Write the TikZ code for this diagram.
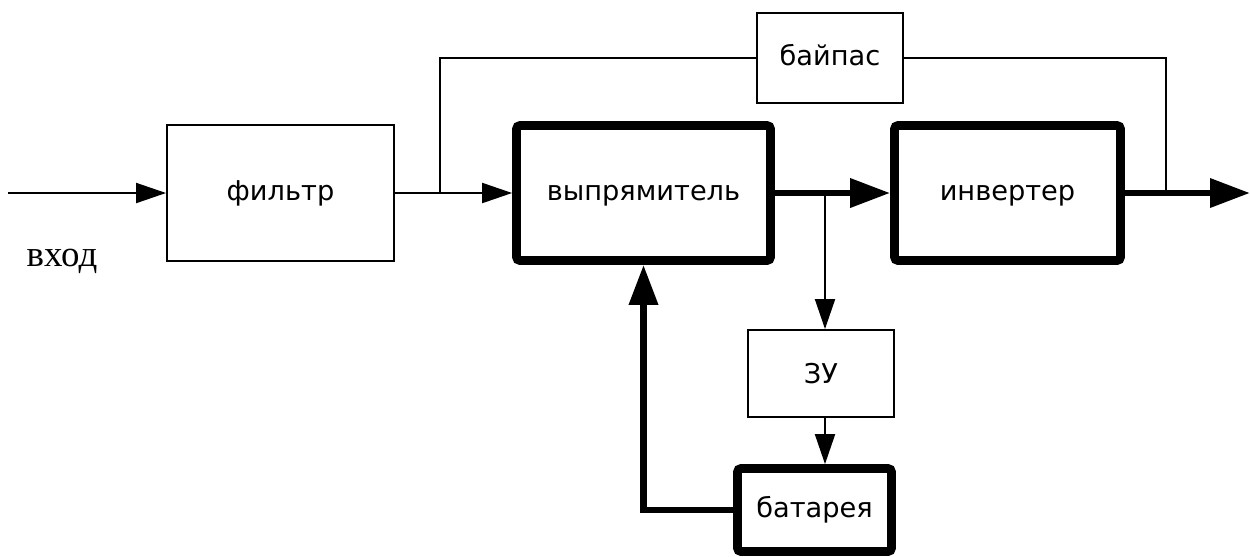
\documentclass[tikz,border=0pt]{standalone}
\usepackage{fontspec}
\setmainfont{DejaVu Sans}
\newfontfamily\serifcyr{Liberation Serif}
\usetikzlibrary{arrows.meta}
\tikzstyle{block} = [rectangle, draw, line width=1.1pt, inner sep=0pt,
    text height=8.4pt, text depth=0pt, font=\fontsize{15.5}{18}\selectfont]
\tikzstyle{bigblock} = [block, line width=5pt, rounded corners=2pt]
\tikzstyle{line} = [draw, line width=1.1pt]
\tikzstyle{bus} = [draw, line width=3.8pt]
\tikzstyle{arr} = [line, -{Triangle[length=0.6cm,width=0.4cm]}]
\tikzstyle{busarr} = [bus, -{Triangle[length=0.8cm,width=0.56cm]}]

\begin{document}
\begin{tikzpicture}[x=0.02cm,y=-0.02cm]
    \useasboundingbox (0,0) rectangle (1250,556);
    % blocks
    \node[block, minimum width=4.54cm, minimum height=2.72cm] (filter) at (280.5,193) {фильтр};
    \node[bigblock, minimum width=5.08cm, minimum height=2.7cm] (rect) at (643.5,193) {выпрямитель};
    \node[bigblock, minimum width=4.52cm, minimum height=2.7cm] (inv) at (1007.5,193) {инвертер};
    \node[block, minimum width=2.92cm, minimum height=1.8cm] (bypass) at (830,58) {байпас};
    \node[block, minimum width=2.92cm, minimum height=1.74cm, text height=11.3pt] (zu) at (821,373.5) {ЗУ};
    \node[bigblock, minimum width=3.08cm, minimum height=1.66cm] (batt) at (814.5,510) {батарея};
    \node[font=\serifcyr\fontsize{21}{24}\selectfont] (inlabel) at (62,261) {вход};
    % connectors
    \coordinate (in) at (8,193);
    \coordinate (out) at (1250,193);
    \coordinate (j1) at (440,193);
    \coordinate (j2) at (1166,193);
    \coordinate (j3) at (825,193);
    \draw[arr] (in) -- (filter.west);
    \draw[arr] (filter.east) -- (rect.west);
    \draw[line] (j1) |- (bypass.west);
    \draw[line] (bypass.east) -| (j2);
    \draw[busarr] (rect.east) -- (inv.west);
    \draw[busarr] (inv.east) -- (out);
    \draw[arr] (j3) -- (j3 |- zu.north);
    \draw[arr] (zu.south -| j3) -- (batt.north -| j3);
    \draw[busarr] (batt.west) -| (rect.south);
\end{tikzpicture}
\end{document}
